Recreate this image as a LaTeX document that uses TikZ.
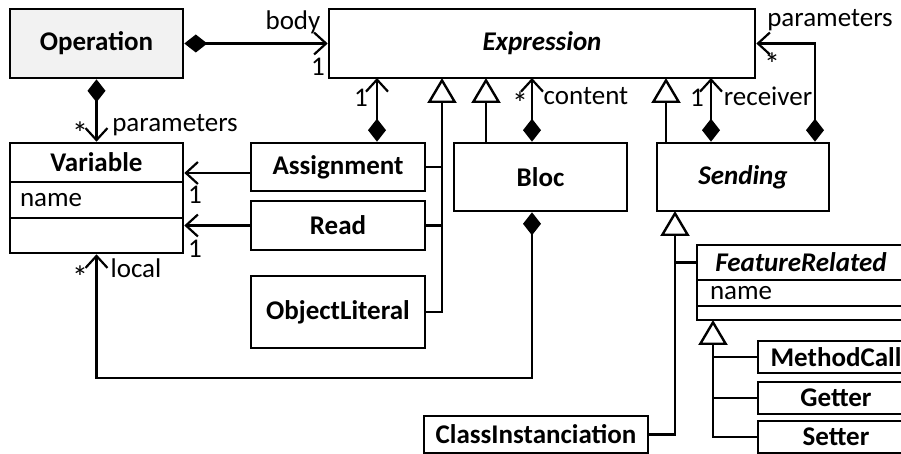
\documentclass[tikz,border=0pt]{standalone}
\usepackage{fontspec}
\setmainfont{Carlito}
\usetikzlibrary{arrows.meta}
\definecolor{opfill}{HTML}{F2F2F2}
\begin{document}
\begin{tikzpicture}[x=0.5pt,y=-0.5pt, line width=1.2pt,
  every node/.style={font=\fontsize{13.5}{16}\selectfont},
  cls/.style={draw, line width=1.3pt, inner sep=0pt, font=\fontsize{13.5}{16}\selectfont\bfseries},
  att/.style={draw, line width=1.3pt, inner ysep=0pt, inner xsep=5pt, align=left},
  lbl/.style={inner sep=0pt},
  star/.style={inner sep=0pt, font=\fontsize{16}{16}\selectfont},
  assoc/.style={-{Straight Barb[length=6pt,width=11pt,line width=1.1pt]}},
  comp/.style={{Diamond[length=11.5pt,width=9pt]}-{Straight Barb[length=6pt,width=11pt,line width=1.1pt]}},
  gen/.style={-{Triangle[open,fill=white,length=12.5pt,width=14.5pt,line width=1.2pt]}}]
\useasboundingbox (0,0) rectangle (901,454);

% classes
\node[cls, fill=opfill, minimum width=86.5pt, minimum height=34.5pt] (op) at (96.5,43.5) {Operation};
\node[cls, minimum width=213pt, minimum height=34.5pt] (ex) at (542,43.5) {\itshape Expression};

\node[cls, minimum width=86.5pt, minimum height=19.5pt] (vh) at (96.5,162.5) {Variable};
\node[att, minimum width=86.5pt, minimum height=18pt, text width=76.5pt] (vn) at (96.5,200) {name};
\node[cls, minimum width=86.5pt, minimum height=17.5pt] (ve) at (96.5,235.5) {};

\node[cls, minimum width=87pt, minimum height=24pt] (as) at (338,167) {Assignment};
\node[cls, minimum width=87pt, minimum height=24.5pt] (rd) at (338,225.5) {Read};
\node[cls, minimum width=87pt, minimum height=36pt] (ol) at (338,312) {ObjectLiteral};
\node[cls, minimum width=86.5pt, minimum height=34pt] (bl) at (540.5,177) {Bloc};
\node[cls, minimum width=86pt, minimum height=34pt] (sd) at (743,177) {\itshape Sending};

\node[cls, minimum width=104pt, minimum height=17.5pt] (frh) at (801,262.5) {\itshape FeatureRelated};
\node[att, minimum width=104pt, minimum height=13pt, text width=91pt, inner xsep=6.5pt] (frn) at (801,293) {name};
\node[cls, minimum width=104pt, minimum height=7pt] (fre) at (801,313) {};

\node[cls, minimum width=78pt, minimum height=16pt] (mc) at (836,357) {MethodCall};
\node[cls, minimum width=78pt, minimum height=16pt] (gt) at (836,398) {Getter};
\node[cls, minimum width=78pt, minimum height=16pt] (st) at (836,437) {Setter};
\node[cls, minimum width=112pt, minimum height=18.5pt] (ci) at (536,434.5) {ClassInstanciation};

% helper coordinates
\coordinate (g1) at (442,78);
\coordinate (g2) at (486,78);
\coordinate (g3) at (666,78);
\coordinate (g4) at (675,211);
\coordinate (g5) at (713,320);
\coordinate (c0) at (377,78);
\coordinate (c1) at (532,78);
\coordinate (c2) at (711,78);
\coordinate (c3) at (815,0);
\coordinate (lc) at (532,378);

% compositions / associations
\draw[comp] (op.east) -- (ex.west);
\draw[comp] (op.south) -- (vh.north);
\draw[assoc] ([yshift=-3pt]as.west) -- ([yshift=-3pt]as.west -| vh.east);
\draw[assoc] (rd.west) -- (rd.west -| ve.east);
\draw[comp] (as.north -| c0) -- (c0);
\draw[comp] (bl.north -| c1) -- (c1);
\draw[comp] (sd.north -| c2) -- (c2);
\draw[comp] (sd.north -| c3) |- (ex.east);
\draw[comp] (bl.south -| c1) -- (lc) -| (ve.south);

% generalizations
\draw[gen] (ol.east) -| (g1);
\draw (as.east) -- (as.east -| g1);
\draw (rd.east) -- (rd.east -| g1);
\draw[gen] (bl.north -| g2) -- (g2);
\draw[gen] (sd.north -| g3) -- (g3);
\draw[gen] (ci.east) -| (g4);
\draw (frh.west) -- (frh.west -| g4);
\draw[gen] (st.west) -| (g5);
\draw (mc.west) -- (mc.west -| g5);
\draw (gt.west) -- (gt.west -| g5);

% labels
\node[lbl] (lb1) at (293,22) {body};
\node[lbl] (lb2) at (318,67) {1};
\node[star] (lb3) at (80,133) {*};
\node[lbl] (lb4) at (175,125) {parameters};
\node[lbl] (lb5) at (195,195) {1};
\node[lbl] (lb6) at (195,249) {1};
\node[lbl] (lb7) at (361,98) {1};
\node[star] (lb8) at (520,103) {*};
\node[lbl] (lb9) at (586,96) {content};
\node[lbl] (lb10) at (697,98) {1};
\node[lbl] (lb11) at (768,96) {receiver};
\node[lbl] (lb12) at (830,20) {parameters};
\node[star] (lb13) at (772,64) {*};
\node[star] (lb14) at (80,277) {*};
\node[lbl] (lb15) at (136,268) {local};
\end{tikzpicture}
\end{document}
